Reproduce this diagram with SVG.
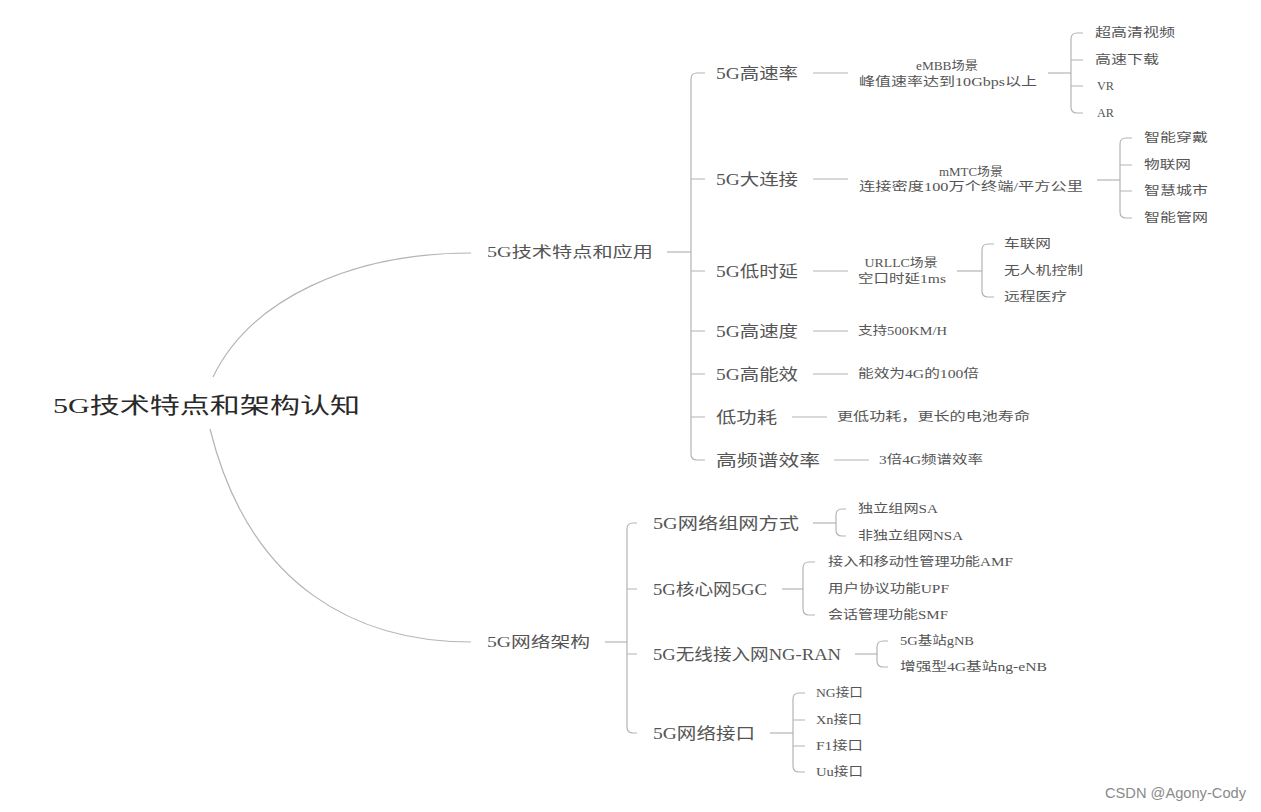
<svg xmlns="http://www.w3.org/2000/svg" width="1261" height="812" viewBox="0 0 1261 812">
<style>
text{font-family:"Liberation Serif","Noto Sans CJK SC",serif;fill:#555}
.root{font-size:22px;fill:#2a2a2a}
.l1{font-size:15px}
.l2{font-size:16px}
.d{font-size:12px}
.lf{font-size:12px}
.wm{font-family:"Liberation Sans","Noto Sans CJK SC",sans-serif;font-size:14px;fill:#8a8a8a}
.c path{fill:none;stroke:#b4b4b4;stroke-width:1.2}
</style>
<rect width="1261" height="812" fill="#fff"/>
<g class="c" id="connectors">
<path d="M213,377 C250,300 350,253 471,253"/>
<path d="M210,429 C250,590 360,642 471,642"/>
<path d="M667,252 H691"/>
<path d="M705,73 H697 Q691,73 691,79 V454 Q691,460 697,460 H705 M691,179 H705 M691,271 H705 M691,331 H705 M691,374 H705 M691,417 H705"/>
<path d="M813,73 H848 M813,179 H848 M813,271 H848 M813,331 H848 M813,374 H848 M792,417 H827 M834,460 H869"/>
<path d="M1048,73 H1071"/>
<path d="M1083,33 H1077 Q1071,33 1071,39 V107 Q1071,113 1077,113 H1083 M1071,60 H1083 M1071,86 H1083"/>
<path d="M1097,180 H1120"/>
<path d="M1132,138 H1126 Q1120,138 1120,144 V212 Q1120,218 1126,218 H1132 M1120,165 H1132 M1120,191 H1132"/>
<path d="M957,271 H982"/>
<path d="M994,244 H988 Q982,244 982,250 V291 Q982,297 988,297 H994"/>
<path d="M605,642 H627"/>
<path d="M637,523 H633 Q627,523 627,529 V727 Q627,733 633,733 H637 M627,589 H637 M627,654 H637"/>
<path d="M813,523 H836"/>
<path d="M846,509 H842 Q836,509 836,515 V530 Q836,536 842,536 H846"/>
<path d="M782,589 H803"/>
<path d="M815,562 H809 Q803,562 803,568 V609 Q803,615 809,615 H815"/>
<path d="M855,654 H877"/>
<path d="M888,641 H883 Q877,641 877,647 V661 Q877,667 883,667 H888"/>
<path d="M770,733 H793"/>
<path d="M805,693 H799 Q793,693 793,699 V766 Q793,772 799,772 H805 M793,720 H805 M793,746 H805"/>
</g>
<g id="root"><text class="root" x="53" y="413" textLength="307" lengthAdjust="spacingAndGlyphs">5G技术特点和架构认知</text></g>
<g id="n-tech"><text class="l1" x="487" y="257" textLength="166" lengthAdjust="spacingAndGlyphs">5G技术特点和应用</text></g>
<g id="n-arch"><text class="l1" x="487" y="647" textLength="103" lengthAdjust="spacingAndGlyphs">5G网络架构</text></g>
<g id="n-rate"><text class="l2" x="716" y="79" textLength="82" lengthAdjust="spacingAndGlyphs">5G高速率</text></g>
<g id="n-conn"><text class="l2" x="716" y="185" textLength="82" lengthAdjust="spacingAndGlyphs">5G大连接</text></g>
<g id="n-lat"><text class="l2" x="716" y="277" textLength="82" lengthAdjust="spacingAndGlyphs">5G低时延</text></g>
<g id="n-spd"><text class="l2" x="716" y="337" textLength="82" lengthAdjust="spacingAndGlyphs">5G高速度</text></g>
<g id="n-eff"><text class="l2" x="716" y="380" textLength="82" lengthAdjust="spacingAndGlyphs">5G高能效</text></g>
<g id="n-pow"><text class="l2" x="716" y="423" textLength="61" lengthAdjust="spacingAndGlyphs">低功耗</text></g>
<g id="n-spec"><text class="l2" x="716" y="466" textLength="104" lengthAdjust="spacingAndGlyphs">高频谱效率</text></g>
<g id="d-embb"><text class="d" x="947" y="70" text-anchor="middle" textLength="62" lengthAdjust="spacingAndGlyphs">eMBB场景</text><text class="d" x="859" y="86" textLength="178" lengthAdjust="spacingAndGlyphs">峰值速率达到10Gbps以上</text></g>
<g id="d-mmtc"><text class="d" x="971" y="176" text-anchor="middle" textLength="64" lengthAdjust="spacingAndGlyphs">mMTC场景</text><text class="d" x="859" y="191" textLength="224" lengthAdjust="spacingAndGlyphs">连接密度100万个终端/平方公里</text></g>
<g id="d-urllc"><text class="d" x="901" y="267" text-anchor="middle" textLength="73" lengthAdjust="spacingAndGlyphs">URLLC场景</text><text class="d" x="858" y="283" textLength="88" lengthAdjust="spacingAndGlyphs">空口时延1ms</text></g>
<g id="d-spd"><text class="d" x="858" y="335" textLength="89" lengthAdjust="spacingAndGlyphs">支持500KM/H</text></g>
<g id="d-eff"><text class="d" x="858" y="378" textLength="121" lengthAdjust="spacingAndGlyphs">能效为4G的100倍</text></g>
<g id="d-pow"><text class="d" x="837" y="421" textLength="193" lengthAdjust="spacingAndGlyphs">更低功耗，更长的电池寿命</text></g>
<g id="d-spec"><text class="d" x="879" y="464" textLength="104" lengthAdjust="spacingAndGlyphs">3倍4G频谱效率</text></g>
<g id="lf-embb">
<text class="lf" x="1095" y="37" textLength="80" lengthAdjust="spacingAndGlyphs">超高清视频</text>
<text class="lf" x="1095" y="64" textLength="64" lengthAdjust="spacingAndGlyphs">高速下载</text>
<text class="lf" x="1097" y="90" textLength="17" lengthAdjust="spacingAndGlyphs">VR</text>
<text class="lf" x="1097" y="117" textLength="17" lengthAdjust="spacingAndGlyphs">AR</text>
</g>
<g id="lf-mmtc">
<text class="lf" x="1144" y="142" textLength="64" lengthAdjust="spacingAndGlyphs">智能穿戴</text>
<text class="lf" x="1144" y="169" textLength="47" lengthAdjust="spacingAndGlyphs">物联网</text>
<text class="lf" x="1144" y="195" textLength="64" lengthAdjust="spacingAndGlyphs">智慧城市</text>
<text class="lf" x="1144" y="222" textLength="64" lengthAdjust="spacingAndGlyphs">智能管网</text>
</g>
<g id="lf-urllc">
<text class="lf" x="1004" y="248" textLength="47" lengthAdjust="spacingAndGlyphs">车联网</text>
<text class="lf" x="1004" y="275" textLength="79" lengthAdjust="spacingAndGlyphs">无人机控制</text>
<text class="lf" x="1004" y="301" textLength="63" lengthAdjust="spacingAndGlyphs">远程医疗</text>
</g>
<g id="n-net"><text class="l2" x="653" y="529" textLength="146" lengthAdjust="spacingAndGlyphs">5G网络组网方式</text></g>
<g id="n-core"><text class="l2" x="653" y="595" textLength="114" lengthAdjust="spacingAndGlyphs">5G核心网5GC</text></g>
<g id="n-ran"><text class="l2" x="653" y="660" textLength="188" lengthAdjust="spacingAndGlyphs">5G无线接入网NG-RAN</text></g>
<g id="n-if"><text class="l2" x="653" y="739" textLength="102" lengthAdjust="spacingAndGlyphs">5G网络接口</text></g>
<g id="lf-net">
<text class="lf" x="858" y="513" textLength="80" lengthAdjust="spacingAndGlyphs">独立组网SA</text>
<text class="lf" x="858" y="540" textLength="105" lengthAdjust="spacingAndGlyphs">非独立组网NSA</text>
</g>
<g id="lf-core">
<text class="lf" x="828" y="566" textLength="185" lengthAdjust="spacingAndGlyphs">接入和移动性管理功能AMF</text>
<text class="lf" x="828" y="593" textLength="121" lengthAdjust="spacingAndGlyphs">用户协议功能UPF</text>
<text class="lf" x="828" y="619" textLength="120" lengthAdjust="spacingAndGlyphs">会话管理功能SMF</text>
</g>
<g id="lf-ran">
<text class="lf" x="900" y="645" textLength="74" lengthAdjust="spacingAndGlyphs">5G基站gNB</text>
<text class="lf" x="900" y="671" textLength="147" lengthAdjust="spacingAndGlyphs">增强型4G基站ng-eNB</text>
</g>
<g id="lf-if">
<text class="lf" x="816" y="697" textLength="47" lengthAdjust="spacingAndGlyphs">NG接口</text>
<text class="lf" x="816" y="724" textLength="46" lengthAdjust="spacingAndGlyphs">Xn接口</text>
<text class="lf" x="816" y="750" textLength="47" lengthAdjust="spacingAndGlyphs">F1接口</text>
<text class="lf" x="816" y="776" textLength="47" lengthAdjust="spacingAndGlyphs">Uu接口</text>
</g>
<text class="wm" x="1105" y="798" textLength="141" lengthAdjust="spacingAndGlyphs">CSDN @Agony-Cody</text>
</svg>
